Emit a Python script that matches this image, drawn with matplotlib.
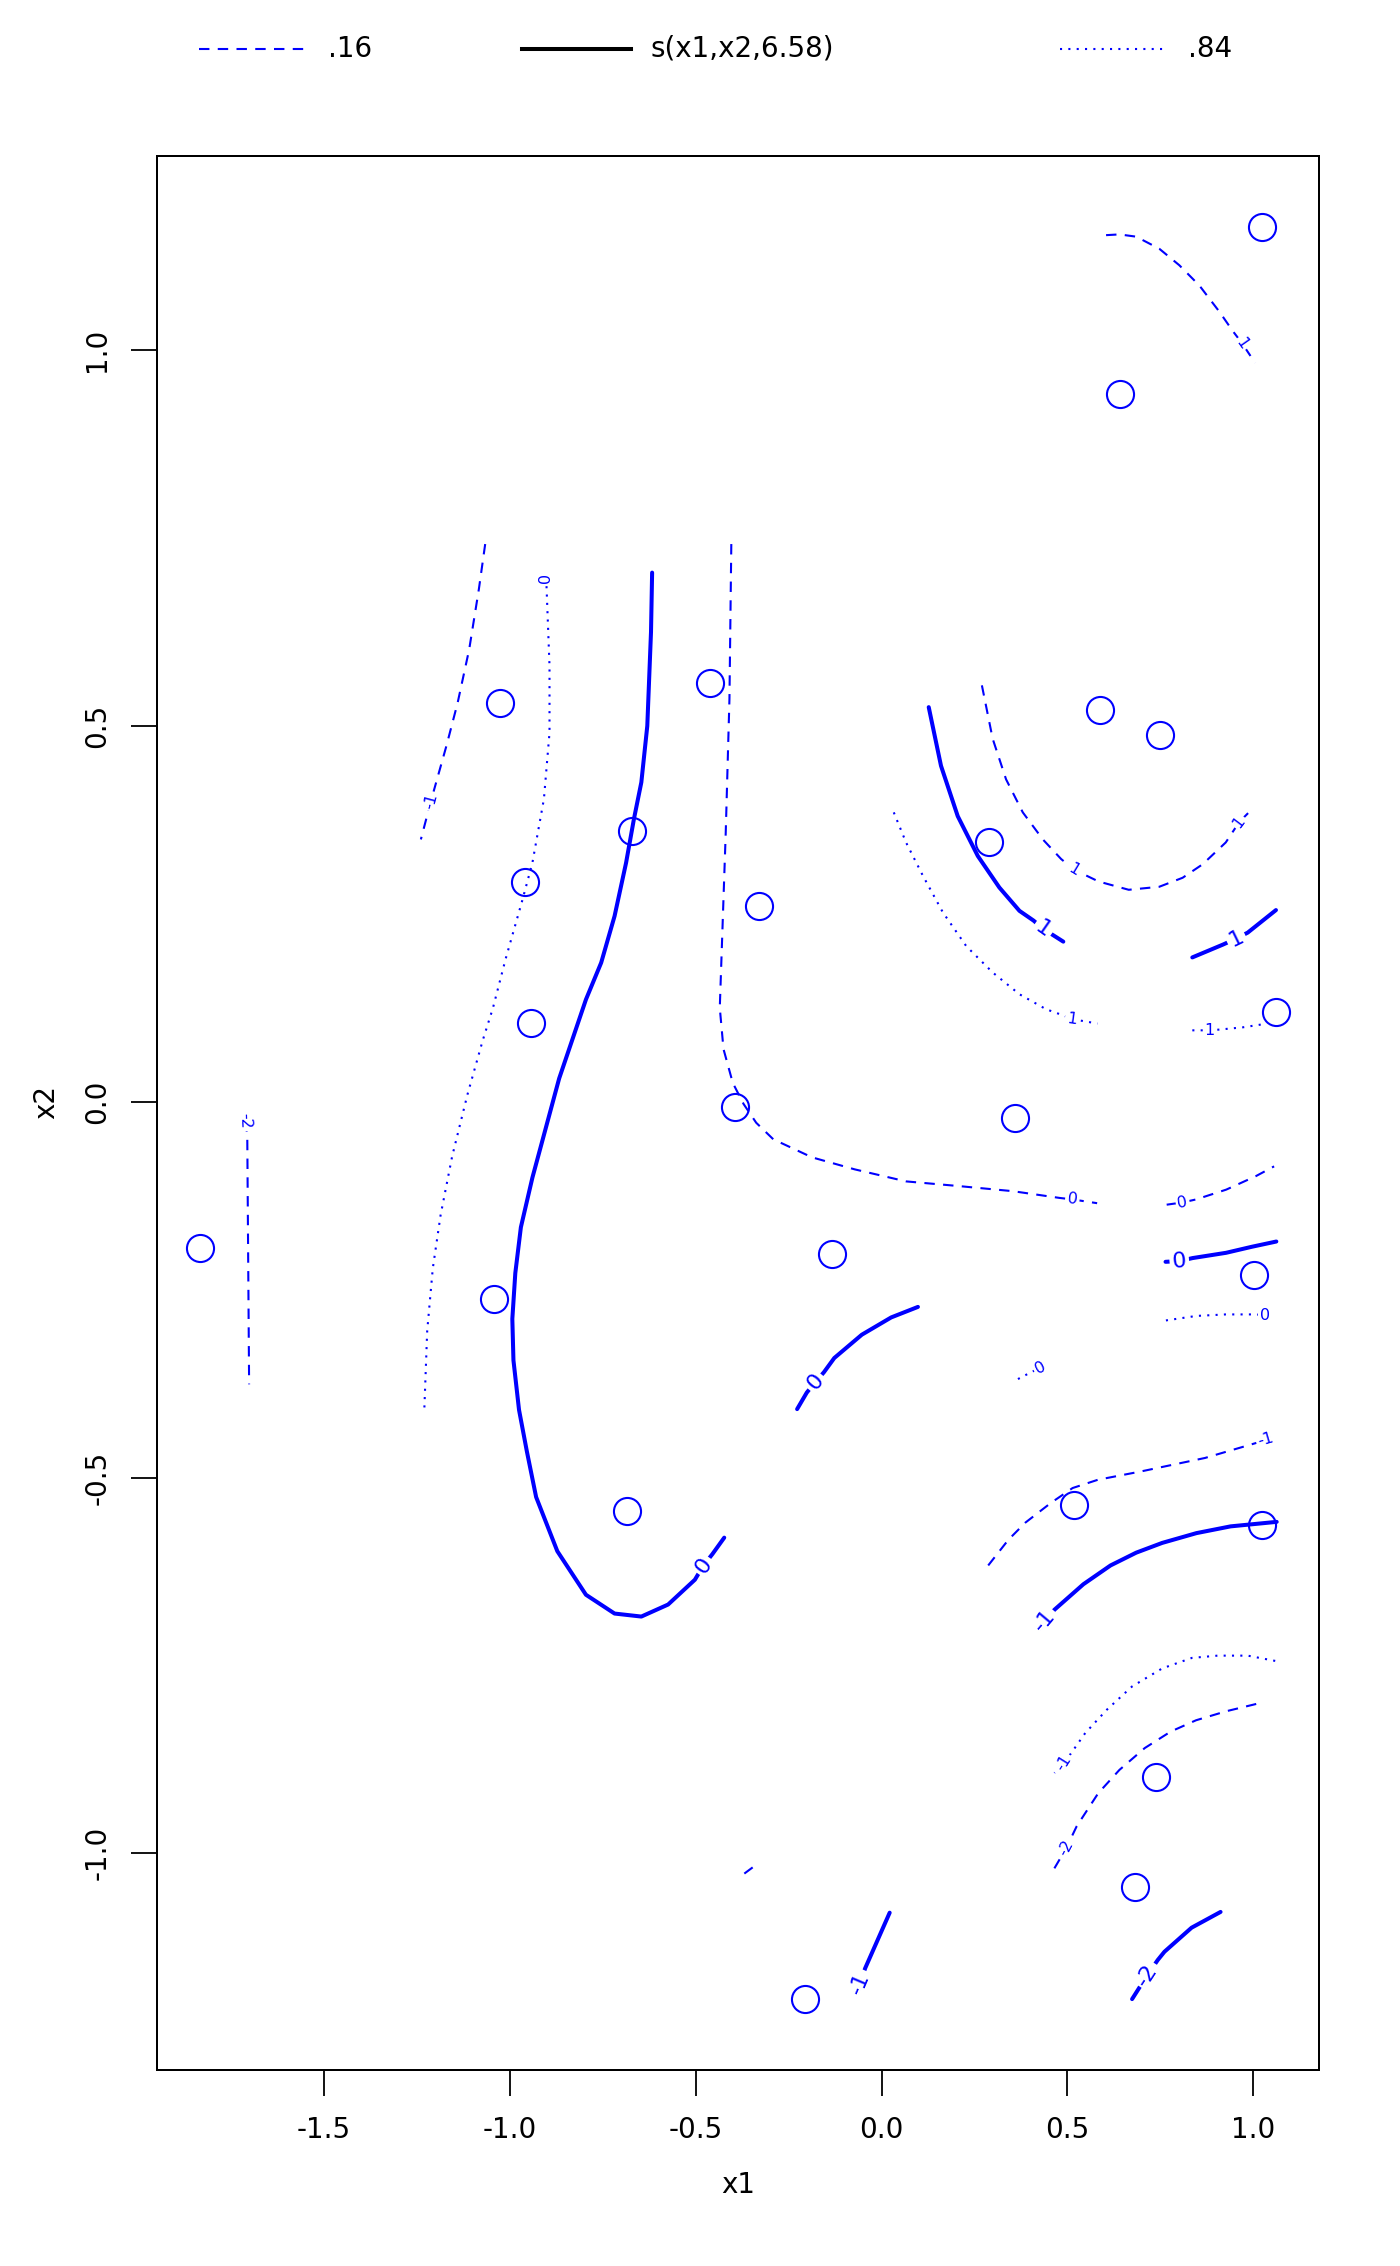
import matplotlib
matplotlib.use("Agg")
import matplotlib.pyplot as plt
from matplotlib.lines import Line2D

plt.rcParams['axes.unicode_minus'] = False
plt.rcParams['font.family'] = ['DejaVu Sans']

# ---- data points (x1, x2) ----
x1_pts = [1.023, 0.642, 0.588, 0.749, 0.290, 1.061, 0.359, 1.003, 0.517, 1.024,
          0.738, 0.681, -0.205, -0.133, -0.394, -0.330, -0.461, -0.671, -1.026,
          -0.960, -0.942, -1.041, -0.684, -1.833]
x2_pts = [1.164, 0.941, 0.521, 0.488, 0.345, 0.120, -0.022, -0.230, -0.536, -0.563,
          -0.899, -1.045, -1.194, -0.203, -0.007, 0.260, 0.557, 0.360, 0.530,
          0.293, 0.105, -0.262, -0.544, -0.195]

# ---- estimate contours s(x1,x2,6.58) (solid) ----
est_lines = [
    ([-0.617, -0.620, -0.630, -0.646, -0.666, -0.687, -0.718, -0.754, -0.795, -0.867,
      -0.939, -0.970, -0.985, -0.993, -0.990, -0.975, -0.954, -0.929, -0.872, -0.795,
      -0.718, -0.646, -0.574, -0.502, -0.479, -0.455, -0.423],
     [0.704, 0.625, 0.500, 0.425, 0.376, 0.318, 0.247, 0.185, 0.136, 0.031,
      -0.101, -0.167, -0.228, -0.289, -0.344, -0.410, -0.465, -0.526, -0.598, -0.656,
      -0.681, -0.685, -0.669, -0.636, -0.617, -0.602, -0.580]),
    ([0.127, 0.160, 0.205, 0.259, 0.317, 0.371, 0.409, 0.435, 0.489],
     [0.525, 0.447, 0.380, 0.327, 0.285, 0.254, 0.241, 0.230, 0.213]),
    ([0.836, 0.918, 0.954, 0.985, 1.061],
     [0.192, 0.209, 0.217, 0.225, 0.255]),
    ([0.764, 0.801, 0.837, 0.927, 0.996, 1.062],
     [-0.213, -0.212, -0.208, -0.201, -0.193, -0.186]),
    ([-0.227, -0.201, -0.178, -0.155, -0.127, -0.053, 0.026, 0.098],
     [-0.409, -0.387, -0.373, -0.360, -0.341, -0.310, -0.287, -0.273]),
    ([0.439, 0.465, 0.543, 0.616, 0.685, 0.755, 0.847, 0.939, 1.063],
     [-0.691, -0.676, -0.642, -0.617, -0.600, -0.587, -0.574, -0.565, -0.559]),
    ([0.674, 0.715, 0.743, 0.761, 0.834, 0.912],
     [-1.194, -1.162, -1.142, -1.131, -1.099, -1.078]),
    ([-0.069, -0.058, -0.044, 0.022],
     [-1.184, -1.173, -1.153, -1.079]),
]
est_labels = [(-0.479, -0.617, '0', 55), (0.435, 0.230, '1', -35),
              (0.954, 0.217, '1', 26), (0.801, -0.212, '0', 5),
              (-0.178, -0.373, '0', 50), (0.439, -0.691, '-1', 50),
              (0.715, -1.162, '-2', 57), (-0.058, -1.173, '-1', 67)]

# ---- lower band contours .16 (dashed) ----
lo_lines = [
    ([-1.066, -1.083, -1.109, -1.140, -1.170, -1.212, -1.239],
     [0.742, 0.682, 0.602, 0.531, 0.474, 0.400, 0.349]),
    ([-1.712, -1.706, -1.701], [-0.026, -0.043, -0.376]),
    ([-0.404, -0.409, -0.419, -0.435, -0.425, -0.400, -0.371, -0.337, -0.291, -0.187,
      -0.072, 0.066, 0.203, 0.353, 0.479, 0.514, 0.580],
     [0.742, 0.536, 0.358, 0.125, 0.070, 0.025, -0.003, -0.028, -0.050, -0.074,
      -0.090, -0.106, -0.112, -0.119, -0.128, -0.130, -0.135]),
    ([0.767, 0.810, 0.846, 0.927, 1.007, 1.056],
     [-0.137, -0.134, -0.130, -0.117, -0.099, -0.086]),
    ([0.604, 0.640, 0.685, 0.747, 0.801, 0.855, 0.909, 0.944, 0.970, 1.005],
     [1.153, 1.154, 1.151, 1.135, 1.113, 1.086, 1.051, 1.026, 1.009, 0.983]),
    ([0.270, 0.299, 0.335, 0.380, 0.434, 0.483, 0.517, 0.584, 0.665, 0.747, 0.810,
      0.864, 0.926, 0.962, 0.986],
     [0.554, 0.483, 0.429, 0.385, 0.349, 0.323, 0.309, 0.293, 0.282, 0.286, 0.298,
      0.316, 0.345, 0.372, 0.384]),
    ([0.287, 0.341, 0.387, 0.455, 0.514, 0.582, 0.697, 0.870, 1.008, 1.033],
     [-0.617, -0.583, -0.560, -0.534, -0.514, -0.503, -0.492, -0.474, -0.454, -0.449]),
    ([0.465, 0.497, 0.525, 0.583, 0.640, 0.708, 0.778, 0.846, 0.927, 1.027],
     [-1.020, -0.993, -0.964, -0.920, -0.889, -0.860, -0.838, -0.823, -0.811, -0.799]),
    ([-0.369, -0.331], [-1.027, -1.013]),
]
lo_labels = [(-1.212, 0.400, '-1', 75), (-1.712, -0.026, '-2', -88),
             (0.514, -0.130, '0', -7), (0.810, -0.134, '0', 10),
             (0.970, 1.009, '1', -55), (0.517, 0.309, '1', -31),
             (0.962, 0.372, '1', 53), (1.033, -0.449, '-1', 16),
             (0.497, -0.993, '-2', 62)]

# ---- upper band contours .84 (dotted) ----
hi_lines = [
    ([-0.903, -0.901, -0.893, -0.893, -0.908, -0.939, -0.965, -1.011, -1.045, -1.073,
      -1.114, -1.155, -1.186, -1.207, -1.222, -1.230],
     [0.697, 0.685, 0.580, 0.491, 0.403, 0.318, 0.270, 0.190, 0.125, 0.081,
      0.009, -0.073, -0.151, -0.222, -0.305, -0.413]),
    ([0.033, 0.066, 0.111, 0.165, 0.228, 0.299, 0.371, 0.443, 0.488, 0.512, 0.581],
     [0.385, 0.345, 0.301, 0.252, 0.207, 0.172, 0.143, 0.123, 0.115, 0.110, 0.104]),
    ([0.836, 0.883, 0.909, 0.972, 1.025], [0.095, 0.095, 0.096, 0.099, 0.103]),
    ([0.765, 0.847, 0.926, 1.007, 1.031], [-0.291, -0.285, -0.283, -0.283, -0.284]),
    ([0.367, 0.398, 0.427], [-0.369, -0.361, -0.354]),
    ([1.059, 0.985, 0.904, 0.835, 0.755, 0.674, 0.606, 0.548, 0.514, 0.491, 0.465],
     [-0.744, -0.737, -0.737, -0.740, -0.754, -0.778, -0.809, -0.840, -0.864, -0.880, -0.893]),
]
hi_labels = [(-0.903, 0.697, '0', 90), (0.512, 0.110, '1', -8),
             (0.883, 0.095, '1', 0), (1.031, -0.284, '0', 0),
             (0.427, -0.354, '0', 27), (0.491, -0.880, '-1', 58)]

x_ticks = [-1.5, -1.0, -0.5, 0.0, 0.5, 1.0]
y_ticks = [-1.0, -0.5, 0.0, 0.5, 1.0]
legend_texts = ['.16', 's(x1,x2,6.58)', '.84']

W, H = 1400, 2266
fig = plt.figure(figsize=(W / 100, H / 100), dpi=100)
ax = fig.add_axes([157 / W, 1 - 2070 / H, (1319 - 157) / W, (2070 - 156) / H])

DASH = (0, (5, 4))
DOT = (0, (1, 3))

for xs, ys in est_lines:
    ax.plot(xs, ys, color='blue', lw=2.9, solid_capstyle='round', zorder=2)
for xs, ys in lo_lines:
    ax.plot(xs, ys, color='blue', lw=1.5, ls=DASH, zorder=2)
for xs, ys in hi_lines:
    ax.plot(xs, ys, color='blue', lw=1.5, ls=DOT, zorder=2)

box = dict(boxstyle='square,pad=0.12', fc='white', ec='none')
for x, y, t, a in est_labels:
    ax.text(x, y, t, rotation=a, rotation_mode='anchor', ha='center', va='center',
            fontsize=16, color='blue', bbox=box, zorder=3)
for x, y, t, a in lo_labels + hi_labels:
    ax.text(x, y, t, rotation=a, rotation_mode='anchor', ha='center', va='center',
            fontsize=11.5, color='blue', bbox=box, zorder=3)

ax.plot(x1_pts, x2_pts, 'o', mfc='none', mec='blue', ms=19.5, mew=1.5, zorder=4)

def padlim(v):
    lo, hi = min(v), max(v)
    r = hi - lo
    return lo - 0.04 * r, hi + 0.04 * r

ax.set_xlim(*padlim(x1_pts))
ax.set_ylim(*padlim(x2_pts))

ax.set_xticks(x_ticks)
ax.set_xticklabels([f'{v:.1f}' for v in x_ticks])
ax.set_yticks(y_ticks)
ax.set_yticklabels([f'{v:.1f}' for v in y_ticks], rotation=90, va='center')
ax.tick_params(axis='both', direction='out', length=19, width=1.3, labelsize=20,
               colors='black')
ax.tick_params(axis='x', pad=14)
ax.tick_params(axis='y', pad=14)
for s in ax.spines.values():
    s.set_linewidth(1.44)

fig.text(738 / W, 1 - 2185 / H, 'x1', ha='center', va='center', fontsize=20)
fig.text(46 / W, 1 - 1102 / H, 'x2', ha='center', va='center', fontsize=20, rotation=90)

ly = 1 - 49 / H
fig.add_artist(Line2D([199 / W, 306 / W], [ly, ly], color='blue', lw=1.5, ls=DASH))
fig.text(328 / W, ly, legend_texts[0], ha='left', va='center', fontsize=20)
fig.add_artist(Line2D([522 / W, 631 / W], [ly, ly], color='black', lw=2.9))
fig.text(650 / W, ly, legend_texts[1], ha='left', va='center', fontsize=20)
fig.add_artist(Line2D([1060 / W, 1167 / W], [ly, ly], color='blue', lw=1.5, ls=DOT))
fig.text(1188 / W, ly, legend_texts[2], ha='left', va='center', fontsize=20)

fig.savefig('out.png', dpi=100)
